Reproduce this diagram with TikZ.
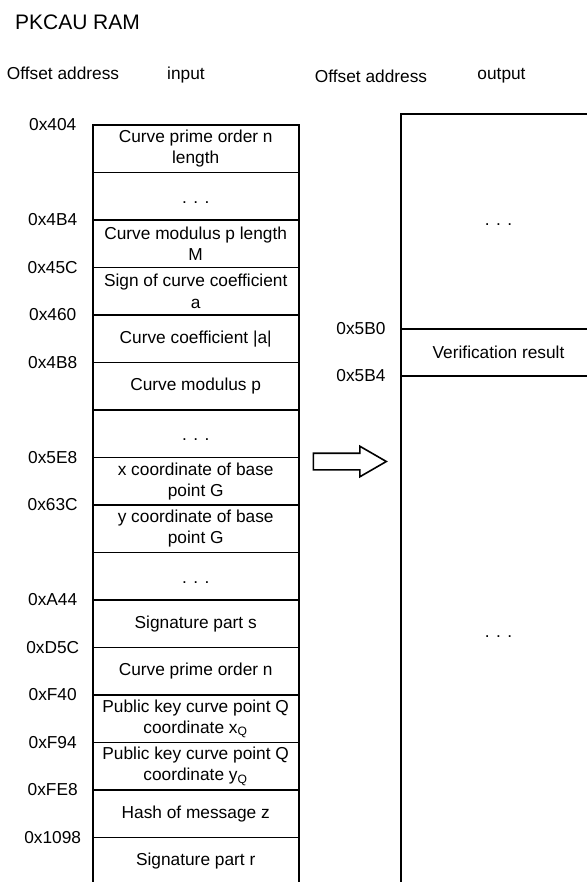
\documentclass[tikz,border=0pt]{standalone}
\usepackage{fontspec}
\setmainfont{Liberation Sans}
\usetikzlibrary{shapes.arrows, positioning}

\begin{document}
\begin{tikzpicture}[x=0.5pt, y=-0.5pt, line width=0.8pt, font=\fontsize{8.65}{10.6}\selectfont]
    % Styles
    \tikzstyle{cell} = [draw, rectangle, minimum width=103pt, minimum height=23.75pt, inner sep=0pt, outer sep=0pt, align=center]
    \tikzstyle{outcell} = [draw, rectangle, minimum width=97.5pt, inner sep=0pt, outer sep=0pt, align=center]
    \tikzstyle{addr} = [inner sep=0pt]
    \tikzstyle{head} = [inner sep=0pt]

    \useasboundingbox (0,0) rectangle (587,882);

    % Headers
    \node (title) [head, font=\fontsize{10.5}{12}\selectfont] at (77.5,22) {PKCAU RAM};
    \node (offin) [head] at (63,73) {Offset address};
    \node (inlbl) [head] at (186,75) {input};
    \node (offout) [head] at (371,76) {Offset address};
    \node (outlbl) [head] at (501.5,76) {output};

    % Input column
    \node (r1) [cell, anchor=north west] at (92.7,125) {Curve prime order n\\length};
    \node (r2) [cell, below=0pt of r1] {\strut\smash{\raisebox{-1.5pt}{. . .}}};
    \node (r3) [cell, below=0pt of r2] {Curve modulus p length\\M};
    \node (r4) [cell, below=0pt of r3] {Sign of curve coefficient\\a};
    \node (r5) [cell, below=0pt of r4] {Curve coefficient |a|};
    \node (r6) [cell, below=0pt of r5] {Curve modulus p};
    \node (r7) [cell, below=0pt of r6] {\strut\smash{\raisebox{-1.5pt}{. . .}}};
    \node (r8) [cell, below=0pt of r7] {x coordinate of base\\point G};
    \node (r9) [cell, below=0pt of r8] {y coordinate of base\\point G};
    \node (r10) [cell, below=0pt of r9] {\strut\smash{\raisebox{-1.5pt}{. . .}}};
    \node (r11) [cell, below=0pt of r10] {Signature part s};
    \node (r12) [cell, below=0pt of r11] {Curve prime order n};
    \node (r13) [cell, below=0pt of r12] {Public key curve point Q\\coordinate x\textsubscript{Q}};
    \node (r14) [cell, below=0pt of r13] {Public key curve point Q\\coordinate y\textsubscript{Q}};
    \node (r15) [cell, below=0pt of r14] {Hash of message z};
    \node (r16) [cell, below=0pt of r15] {Signature part r};

    % Input offsets
    \node (a404) [addr] at ([xshift=-20pt]r1.north west) {0x404};
    \node (a4B4) [addr] at ([xshift=-20pt]r3.north west) {0x4B4};
    \node (a45C) [addr] at ([xshift=-20pt]r4.north west) {0x45C};
    \node (a460) [addr] at ([xshift=-20pt]r5.north west) {0x460};
    \node (a4B8) [addr] at ([xshift=-20pt]r6.north west) {0x4B8};
    \node (a5E8) [addr] at ([xshift=-20pt]r8.north west) {0x5E8};
    \node (a63C) [addr] at ([xshift=-20pt]r9.north west) {0x63C};
    \node (aA44) [addr] at ([xshift=-20pt]r11.north west) {0xA44};
    \node (aD5C) [addr] at ([xshift=-20pt]r12.north west) {0xD5C};
    \node (aF40) [addr] at ([xshift=-20pt]r13.north west) {0xF40};
    \node (aF94) [addr] at ([xshift=-20pt]r14.north west) {0xF94};
    \node (aFE8) [addr] at ([xshift=-20pt]r15.north west) {0xFE8};
    \node (a1098) [addr] at ([xshift=-20pt]r16.north west) {0x1098};

    % Output column
    \node (o1) [outcell, minimum height=107.5pt, anchor=north west] at (401,114) {\strut. . .};
    \node (o2) [outcell, minimum height=23.5pt, below=0pt of o1] {Verification result};
    \node (o3) [outcell, minimum height=261pt, below=0pt of o2] {. . .};

    % Output offsets
    \node (a5B0) [addr] at ([xshift=-20pt]o2.north west) {0x5B0};
    \node (a5B4) [addr] at ([xshift=-20pt]o3.north west) {0x5B4};

    % Block arrow input -> output
    \node (flow) [draw, single arrow, single arrow head extend=3.5pt, single arrow tip angle=60, minimum height=36.5pt, inner sep=3.75pt, outer sep=0pt, anchor=tail] at (313.3,461.5) {};

\end{tikzpicture}
\end{document}
